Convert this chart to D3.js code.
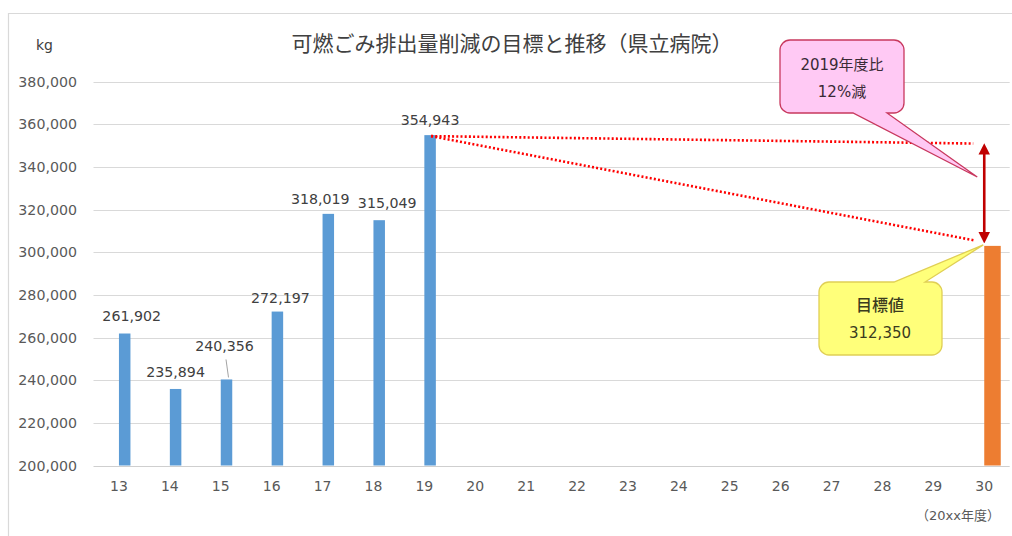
<!DOCTYPE html>
<html>
<head>
<meta charset="utf-8">
<script src="https://cdn.jsdelivr.net/npm/d3@7"></script>
<style>
  html, body { margin: 0; padding: 0; background: #fff; }
  svg { display: block; }
  text { font-family: "DejaVu Sans", "Noto Sans CJK JP", sans-serif; }
</style>
</head>
<body>
<svg id="chart" width="1012" height="536"></svg>
<script>
// ---- data ----
const categories = ["13","14","15","16","17","18","19","20","21","22","23","24","25","26","27","28","29","30"];
const actualYears = ["13","14","15","16","17","18","19"];
const actualValues = [261902, 235894, 240356, 272197, 318019, 315049, 354943];
const targetYear = "30";
const targetBarValue = 303000;      // height as drawn in the picture
const targetLabel = "312,350";
const yTicks = [200000, 220000, 240000, 260000, 280000, 300000, 320000, 340000, 360000, 380000];
const titleText = "可燃ごみ排出量削減の目標と推移（県立病院）";
const unitText = "kg";
const xUnitText = "（20xx年度）";
const pinkLines = ["2019年度比", "12%減"];
const yellowLines = ["目標値", targetLabel];
const refEndValue = 351000;   // end level of the flat reference line at year 30
const arrowTopValue = 351300;
const arrowBottomValue = 304000;
const slopeEndValue = 305500;
const pinkTipValue = 335300;

// label nudges (styling, separate from data)
const labelDx = [7, 0, -2, 3, -8, 8, 0];
const labelDy = [18, 17, 33, 14, 15, 17, 15];

const svg = d3.select("#chart");
const fmt = d3.format(",");

const x = d3.scaleBand().domain(categories).range([93.5, 1009.7]).padding(0);
const y = d3.scaleLinear().domain([200000, 380000]).range([465.5, 81.7]);
const cx = c => x(c) + x.bandwidth() / 2;

// chart frame
svg.append("path").attr("d", "M8.5,536 V13.5 H1012")
  .attr("fill", "none").attr("stroke", "#d9d9d9").attr("stroke-width", 1.2);

// gridlines
svg.append("g").selectAll("line").data(yTicks).join("line")
  .attr("x1", 93.5).attr("x2", 1009.7)
  .attr("y1", d => Math.round(y(d)) + 0.5).attr("y2", d => Math.round(y(d)) + 0.5)
  .attr("stroke", d => d === 200000 ? "#cfcfcf" : "#d9d9d9").attr("stroke-width", 1);

// y axis labels
const yAxis = d3.axisLeft(y).tickValues(yTicks).tickFormat(fmt).tickSize(0).tickPadding(0);
const gy = svg.append("g").attr("transform", "translate(77,0)").call(yAxis);
gy.select(".domain").remove();
gy.selectAll("text").attr("font-size", 14.2).attr("fill", "#595959")
  .attr("font-family", "DejaVu Sans, sans-serif");

// x axis labels
const xAxis = d3.axisBottom(x).tickSize(0).tickPadding(0);
const gx = svg.append("g").attr("transform", "translate(0,481)").call(xAxis);
gx.select(".domain").remove();
gx.selectAll("text").attr("font-size", 14).attr("fill", "#595959")
  .attr("font-family", "DejaVu Sans, sans-serif");

// title & units
svg.append("text").attr("x", 512).attr("y", 51).attr("text-anchor", "middle")
  .attr("font-size", 21).attr("fill", "#404040")
  .attr("font-family", "Noto Sans CJK JP, sans-serif").text(titleText);
svg.append("text").attr("x", 36).attr("y", 50).attr("font-size", 14)
  .attr("fill", "#404040").text(unitText);
svg.append("text").attr("x", 958).attr("y", 520).attr("text-anchor", "middle")
  .attr("font-size", 13).attr("fill", "#595959")
  .attr("font-family", "Noto Sans CJK JP, sans-serif").text(xUnitText);

// blue bars
const actual = actualYears.map((c, i) => ({ c, v: actualValues[i], i }));
const bw = 11.5;
svg.append("g").selectAll("rect").data(actual).join("rect")
  .attr("x", d => cx(d.c)).attr("width", bw)
  .attr("y", d => y(d.v)).attr("height", d => y(200000) - y(d.v))
  .attr("fill", "#5b9bd5");

// orange target bar
const ow = 16.5;
svg.append("rect").attr("x", cx(targetYear)).attr("width", ow)
  .attr("y", y(targetBarValue)).attr("height", y(200000) - y(targetBarValue))
  .attr("fill", "#ed7d31");

// data labels
svg.append("g").selectAll("text").data(actual).join("text")
  .attr("x", d => cx(d.c) + bw / 2 + labelDx[d.i])
  .attr("y", d => y(d.v) - labelDy[d.i] + 5)
  .attr("text-anchor", "middle").attr("font-size", 14.2).attr("fill", "#404040")
  .text(d => fmt(d.v));
// leader line for 15
{
  const d = actual[2];
  svg.append("line")
    .attr("x1", cx(d.c) + bw / 2 - 0.5).attr("y1", y(d.v) - labelDy[2] + 13)
    .attr("x2", cx(d.c) + bw / 2 + 2).attr("y2", y(d.v) - 2)
    .attr("stroke", "#8c8c8c").attr("stroke-width", 0.8);
}

// red dotted reference lines
const startX = cx("19") + bw / 2 + 1, startY = y(actualValues[6]) + 1;
const dotted = [
  { x2: cx(targetYear) - 11, y2: y(refEndValue) },
  { x2: cx(targetYear) - 9, y2: y(slopeEndValue) }
];
svg.append("g").selectAll("line").data(dotted).join("line")
  .attr("x1", startX).attr("y1", startY)
  .attr("x2", d => d.x2).attr("y2", d => d.y2)
  .attr("stroke", "#ff0000").attr("stroke-width", 2.6)
  .attr("stroke-dasharray", "2,2.2");

// double arrow
const defs = svg.append("defs");
defs.append("marker").attr("id", "ah").attr("viewBox", "0 0 10 10")
  .attr("refX", 5).attr("refY", 5).attr("markerWidth", 4.4).attr("markerHeight", 4.6)
  .attr("orient", "auto-start-reverse").attr("markerUnits", "strokeWidth")
  .append("path").attr("d", "M0,0 L10,5 L0,10 Z").attr("fill", "#c00000");
svg.append("line")
  .attr("x1", cx(targetYear)).attr("x2", cx(targetYear))
  .attr("y1", y(arrowTopValue) + 6).attr("y2", y(arrowBottomValue) - 6)
  .attr("stroke", "#c00000").attr("stroke-width", 2.6)
  .attr("marker-start", "url(#ah)").attr("marker-end", "url(#ah)");

// callouts
function calloutBottom(x0, y0, x1, y1, r, a, b, tx, ty) {
  return `M${x0 + r},${y0} H${x1 - r} A${r},${r} 0 0 1 ${x1},${y0 + r} V${y1 - r}` +
    ` A${r},${r} 0 0 1 ${x1 - r},${y1} H${b} L${tx},${ty} L${a},${y1} H${x0 + r}` +
    ` A${r},${r} 0 0 1 ${x0},${y1 - r} V${y0 + r} A${r},${r} 0 0 1 ${x0 + r},${y0} Z`;
}
function calloutTop(x0, y0, x1, y1, r, a, b, tx, ty) {
  return `M${x0 + r},${y0} H${a} L${tx},${ty} L${b},${y0} H${x1 - r} A${r},${r} 0 0 1 ${x1},${y0 + r} V${y1 - r}` +
    ` A${r},${r} 0 0 1 ${x1 - r},${y1} H${x0 + r}` +
    ` A${r},${r} 0 0 1 ${x0},${y1 - r} V${y0 + r} A${r},${r} 0 0 1 ${x0 + r},${y0} Z`;
}
const pinkTip = [cx(targetYear) - 7, y(pinkTipValue)];
svg.append("path")
  .attr("d", calloutBottom(780, 40, 904, 113, 10, 853, 887, pinkTip[0], pinkTip[1]))
  .attr("fill", "#ffc9f4").attr("stroke", "#c8385e").attr("stroke-width", 1.3);
svg.append("g").selectAll("text").data(pinkLines).join("text")
  .attr("x", 842).attr("y", (d, i) => 70 + i * 27).attr("text-anchor", "middle")
  .attr("font-size", 15).attr("fill", "#3a2a35")
  .attr("font-family", "DejaVu Sans, Noto Sans CJK JP, sans-serif").text(d => d);

const yellowTip = [cx(targetYear) - 1, y(targetBarValue) - 1];
svg.append("path")
  .attr("d", calloutTop(819, 282, 942, 355, 10, 894, 925, yellowTip[0], yellowTip[1]))
  .attr("fill", "#ffff7a").attr("stroke", "#e0cf55").attr("stroke-width", 1.3);
svg.append("g").selectAll("text").data(yellowLines).join("text")
  .attr("x", 880).attr("y", (d, i) => 311 + i * 27).attr("text-anchor", "middle")
  .attr("font-size", (d, i) => i === 0 ? 16 : 15)
  .attr("font-weight", (d, i) => i === 0 ? 500 : 400).attr("fill", "#3b3b1e")
  .attr("font-family", "DejaVu Sans, Noto Sans CJK JP, sans-serif").text(d => d);
</script>
</body>
</html>
